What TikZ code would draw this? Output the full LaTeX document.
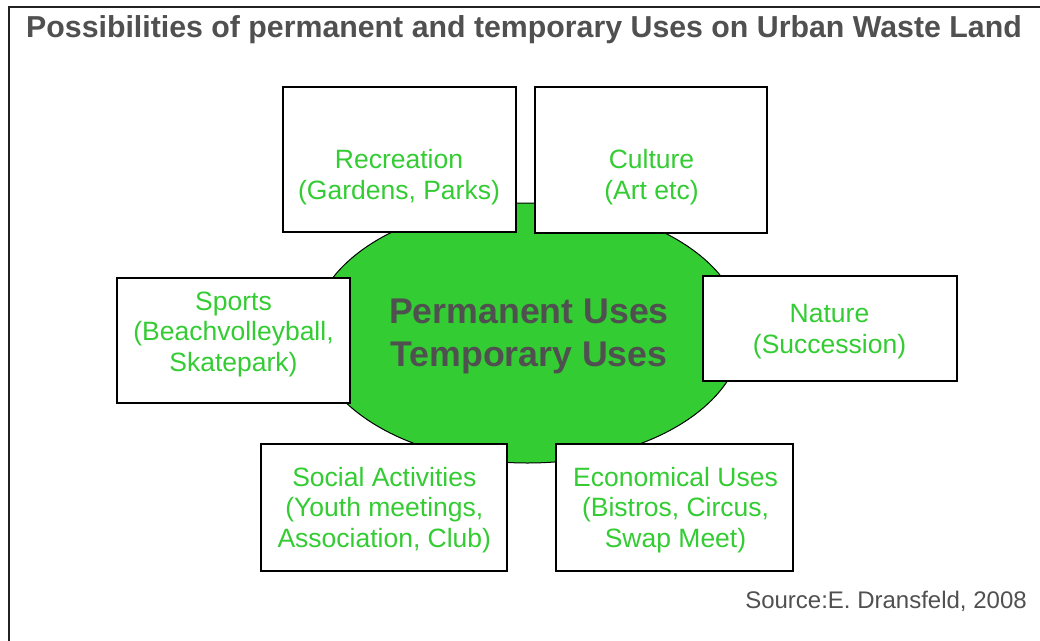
\documentclass[tikz,border=0pt]{standalone}
\usepackage{fontspec}
\setmainfont{Liberation Sans}
\usetikzlibrary{shapes.geometric}
\definecolor{leaf}{HTML}{33CC33}
\definecolor{inkgray}{HTML}{505050}
\definecolor{framec}{HTML}{222222}
\tikzset{
  usebox/.style={draw=black, line width=1.8pt, fill=white, inner sep=0pt, rectangle},
  usetext/.style={text=leaf, font=\fontsize{26.5}{30.5}\selectfont, align=center, inner sep=0pt},
  coretext/.style={text=inkgray, font=\bfseries\fontsize{35.7}{42.7}\selectfont, align=center, inner sep=0pt},
  titletext/.style={text=inkgray, font=\bfseries\fontsize{30.3}{36}\selectfont, inner sep=0pt},
  sourcetext/.style={text=inkgray, font=\fontsize{24}{28}\selectfont, inner sep=0pt},
  coreshape/.style={ellipse, draw=black, line width=1pt, fill=leaf, inner sep=0pt}
}
\begin{document}
\begin{tikzpicture}[x=1pt,y=-1pt]
  \useasboundingbox (0,0) rectangle (1040,640);
  \fill[white] (0,0) rectangle (1040,640);
  % outer frame (top and left edges visible)
  \coordinate (fr1) at (1045,7.3);
  \coordinate (fr2) at (9,7.3);
  \coordinate (fr3) at (9,645);
  \draw[framec, line width=2pt] (fr1) -- (fr2) -- (fr3);
  % title
  \node[titletext, anchor=base] (title) at (524,37.7) {Possibilities of permanent and temporary Uses on Urban Waste Land};
  % central ellipse
  \node[coreshape, minimum width=430pt, minimum height=260pt] (core) at (527.5,333) {};
  % boxes
  \node[usebox, minimum width=233.3pt, minimum height=145pt] (rec) at (399.3,159.5) {};
  \node[usebox, minimum width=231.7pt, minimum height=146pt] (cul) at (650.8,160) {};
  \node[usebox, minimum width=232.7pt, minimum height=125pt] (spo) at (233.7,340.5) {};
  \node[usebox, minimum width=253.4pt, minimum height=105pt] (nat) at (830,328.2) {};
  \node[usebox, minimum width=246pt, minimum height=127pt] (soc) at (384.3,507.5) {};
  \node[usebox, minimum width=237.3pt, minimum height=127pt] (eco) at (674.7,507.5) {};
  % texts
  \node[coretext] (coreT) at (529,336.3) {Permanent Uses\\Temporary Uses};
  \node[usetext] (recT) at (399,177) {Recreation\\(Gardens, Parks)};
  \node[usetext] (culT) at (651.5,177) {Culture\\(Art etc)};
  \node[usetext] (spoT) at (233.5,334.3) {Sports\\(Beachvolleyball,\\Skatepark)};
  \node[usetext] (natT) at (829.5,331.6) {Nature\\(Succession)};
  \node[usetext] (socT) at (384.3,510) {Social Activities\\(Youth meetings,\\Association, Club)};
  \node[usetext] (ecoT) at (675.5,509.7) {Economical Uses\\(Bistros, Circus,\\Swap Meet)};
  % source
  \node[sourcetext, anchor=base] (src) at (886,608) {Source:E. Dransfeld, 2008};
\end{tikzpicture}
\end{document}
